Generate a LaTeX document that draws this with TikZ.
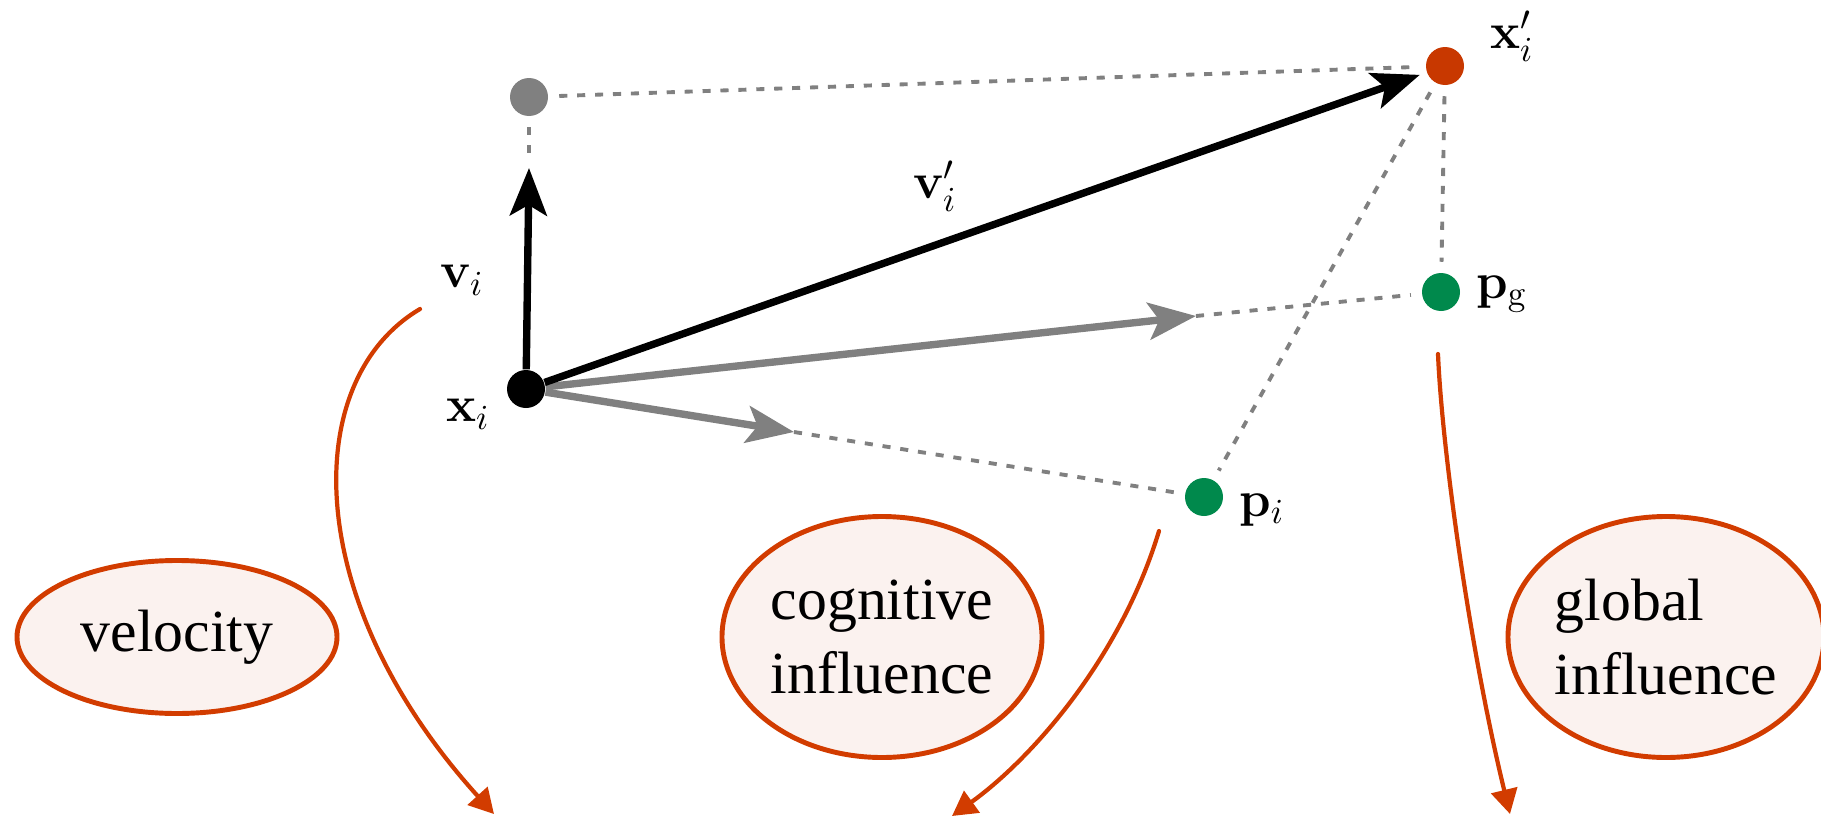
\documentclass[tikz,border=0pt]{standalone}
\usepackage{amsmath, amssymb}
\usepackage[no-math]{fontspec}
\setmainfont{Liberation Serif}
\usepackage{tikz}
\usetikzlibrary{arrows.meta, shapes.geometric, calc}
\definecolor{accent}{RGB}{210,60,0}
\definecolor{newpos}{RGB}{200,56,0}
\definecolor{best}{RGB}{0,137,76}
\definecolor{bubble}{RGB}{251,242,239}
\tikzset{
  dot/.style={circle, fill, inner sep=0pt, minimum size=0.38cm},
  vec/.style={line width=2.1pt, -{Stealth[length=13.5pt, width=10.5pt, inset=3pt]}},
  part/.style={vec, gray},
  guide/.style={gray, line width=1.1pt, dash pattern=on 2.3pt off 2.8pt, shorten <=3pt, shorten >=3pt},
  flow/.style={accent, line width=1.2pt, -{Triangle[length=7pt, width=7.5pt]}},
  term/.style={ellipse, draw=accent, line width=1.4pt, fill=bubble, inner sep=0pt,
      align=left, font=\fontsize{17}{21}\selectfont},
  lbl/.style={font=\fontsize{14}{17}\selectfont},
}
\begin{document}
\begin{tikzpicture}
  \useasboundingbox (0,0) rectangle (18.21,-8.17);
  % positions
  \node[dot] (xi) at (5.26,-3.89) {};
  \node[dot, gray] (prev) at (5.29,-0.97) {};
  \node[dot, newpos] (xnew) at (14.45,-0.66) {};
  \node[dot, best] (pg) at (14.41,-2.92) {};
  \node[dot, best] (pi) at (12.04,-4.97) {};
  \coordinate (vend) at (5.29,-1.68);
  \coordinate (send) at (11.96,-3.16);
  \coordinate (cend) at (7.94,-4.32);
  % guides
  \draw[guide] (prev) -- (vend);
  \draw[guide] (prev) -- (xnew);
  \draw[guide] (xnew) -- (pg);
  \draw[guide] (xnew) -- (pi);
  \draw[guide, shorten <=0pt] (send) -- (pg);
  \draw[guide, shorten <=0pt] (cend) -- (pi);
  % velocity parts
  \draw[part] (xi) -- (send);
  \draw[part] (xi) -- (cend);
  \draw[vec] (xi) -- (vend);
  \draw[vec, shorten >=2pt] (xi) -- (xnew);
  % labels
  \node[lbl] (lxi) at (4.68,-4.14) {$\mathbf{x}_i$};
  \node[lbl] (lvi) at (4.62,-2.80) {$\mathbf{v}_i$};
  \node[lbl] (lvn) at (9.35,-1.86) {$\mathbf{v}_i'$};
  \node[lbl] (lxn) at (15.12,-0.36) {$\mathbf{x}_i'$};
  \node[lbl] (lpg) at (15.02,-2.94) {$\mathbf{p}_{\mathrm{g}}$};
  \node[lbl] (lpi) at (12.62,-5.10) {$\mathbf{p}_i$};
  % terms
  \node[term, minimum width=3.2cm, minimum height=1.53cm] (vel) at (1.77,-6.37) {velocity};
  \node[term, minimum width=3.2cm, minimum height=2.41cm] (cog) at (8.82,-6.37) {cognitive\\influence};
  \node[term, minimum width=3.16cm, minimum height=2.41cm] (glob) at (16.66,-6.37) {global\\influence};
  \coordinate (a1) at (4.20,-3.09);
  \coordinate (b1) at (4.94,-8.14);
  \coordinate (a2) at (11.59,-5.31);
  \coordinate (b2) at (9.52,-8.16);
  \coordinate (a3) at (14.38,-3.54);
  \coordinate (b3) at (15.10,-8.14);
  \draw[flow, line cap=round] (a1) .. controls (3.0,-3.8) and (3.0,-6.0) .. (b1);
  \draw[flow, line cap=round] (a2) .. controls (11.2,-6.6) and (10.3,-7.6) .. (b2);
  \draw[flow, line cap=round] (a3) .. controls (14.42,-4.5) and (14.7,-6.5) .. (b3);
\end{tikzpicture}
\end{document}
